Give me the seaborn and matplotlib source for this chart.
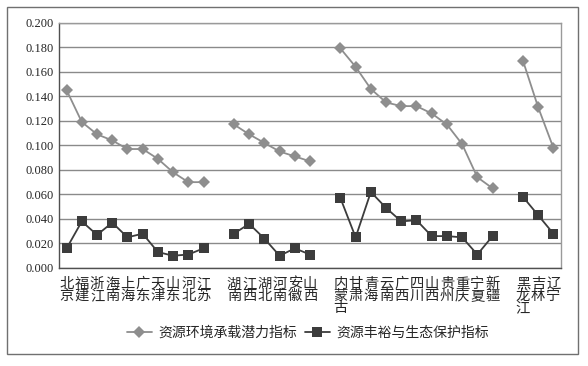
import numpy as np
import pandas as pd
import matplotlib
matplotlib.use("Agg")
import matplotlib.pyplot as plt
import seaborn as sns
from matplotlib.patches import Rectangle

# 地区分组与省份
east = ["北京", "福建", "浙江", "海南", "上海", "广东", "天津", "山东", "河北", "江苏"]
central = ["湖南", "江西", "湖北", "河南", "安徽", "山西"]
west = ["内蒙古", "甘肃", "青海", "云南", "广西", "四川", "山西", "贵州", "重庆", "宁夏", "新疆"]
northeast = ["黑龙江", "吉林", "辽宁"]

# 资源环境承载潜力指标
pot_east = [0.145, 0.119, 0.109, 0.104, 0.097, 0.097, 0.089, 0.078, 0.070, 0.070]
pot_central = [0.117, 0.109, 0.102, 0.095, 0.091, 0.087]
pot_west = [0.179, 0.164, 0.146, 0.135, 0.132, 0.132, 0.126, 0.117, 0.101, 0.074, 0.065]
pot_ne = [0.169, 0.131, 0.098]

# 资源丰裕与生态保护指标
eco_east = [0.016, 0.038, 0.027, 0.037, 0.025, 0.028, 0.013, 0.010, 0.011, 0.016]
eco_central = [0.028, 0.036, 0.024, 0.010, 0.016, 0.011]
eco_west = [0.057, 0.025, 0.062, 0.049, 0.038, 0.039, 0.026, 0.026, 0.025, 0.011, 0.026]
eco_ne = [0.058, 0.043, 0.028]

s1 = "资源环境承载潜力指标"
s2 = "资源丰裕与生态保护指标"

groups = [("东部", east, pot_east, eco_east),
          ("中部", central, pot_central, eco_central),
          ("西部", west, pot_west, eco_west),
          ("东北", northeast, pot_ne, eco_ne)]

# 组之间留一个空位
rows = []
tick_labels = []
slot = 0
for gi, (gname, provs, pot, eco) in enumerate(groups):
    if gi > 0:
        tick_labels.append("")
        slot += 1
    for p, a, b in zip(provs, pot, eco):
        rows.append({"slot": slot, "value": a, "series": s1, "group": gname})
        rows.append({"slot": slot, "value": b, "series": s2, "group": gname})
        tick_labels.append("\n".join(p))
        slot += 1
df = pd.DataFrame(rows)
n_slots = slot

sns.set_style("white")
plt.rcParams["font.family"] = ["Liberation Serif", "Noto Sans CJK SC", "DejaVu Sans"]

fig = plt.figure(figsize=(5.88, 3.66), dpi=100)
ax = fig.add_axes([59 / 588, 1 - 268 / 366, (561 - 59) / 588, (268 - 22.7) / 366])

sns.lineplot(data=df, x="slot", y="value", hue="series", style="series",
             units="group", estimator=None, sort=False,
             palette={s1: "#8e8e8e", s2: "#3c3c3c"},
             markers={s1: "D", s2: "s"}, dashes=False,
             linewidth=1.3, markersize=6.5, markeredgewidth=0,
             ax=ax, legend=True)

ax.set_xlim(-0.5, n_slots - 0.5)
ax.set_ylim(0, 0.2)
ax.set_yticks(np.arange(0, 0.2001, 0.02))
ax.set_yticklabels([f"{v:.3f}" for v in np.arange(0, 0.2001, 0.02)], fontsize=9)
ax.yaxis.grid(True, color="#8a8a8a", linewidth=1)
ax.set_axisbelow(True)
ax.set_xticks(range(n_slots))
ax.set_xticklabels(tick_labels, fontsize=10.3, linespacing=0.9, va="top")
ax.tick_params(axis="both", length=0)
ax.tick_params(axis="x", pad=7)
ax.tick_params(axis="y", pad=4)
ax.set_xlabel("")
ax.set_ylabel("")
for side in ["left", "bottom"]:
    ax.spines[side].set_color("#505050")
    ax.spines[side].set_linewidth(1)
for side in ["top", "right"]:
    ax.spines[side].set_color("#9a9a9a")
    ax.spines[side].set_linewidth(1)

handles, labels = ax.get_legend_handles_labels()
ax.get_legend().remove()
fig.legend(handles, labels, loc="center", bbox_to_anchor=(308 / 588, 1 - 333 / 366),
           ncol=2, frameon=False, fontsize=10, handlelength=1.8,
           columnspacing=0.5, handletextpad=0.5)

fig.patches.append(Rectangle((7 / 588, 1 - 354 / 366), (578 - 7) / 588, (354 - 7) / 366,
                             transform=fig.transFigure, fill=False,
                             edgecolor="#707070", linewidth=1))

fig.savefig("out.png", dpi=100)
